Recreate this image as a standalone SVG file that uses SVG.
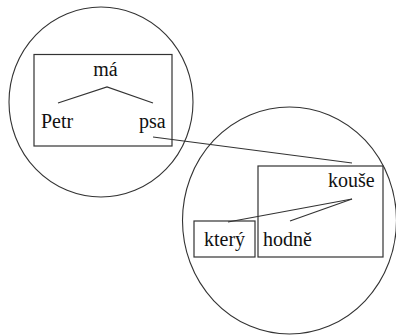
<svg xmlns="http://www.w3.org/2000/svg" width="396" height="336" viewBox="0 0 396 336">
<style>
.c{fill:none;stroke:#333;stroke-width:1.1}
.b{fill:none;stroke:#333;stroke-width:1.2}
.l{fill:none;stroke:#333;stroke-width:1.2}
.t{font-size:20px;fill:#111}
</style>
<rect width="396" height="336" fill="#fff"/>
<g id="circle1"><ellipse class="c" cx="101" cy="102" rx="92" ry="95"/></g>
<g id="circle2"><ellipse class="c" cx="289.5" cy="220.5" rx="107" ry="113.5"/></g>
<g id="box-ma"><rect class="b" x="34" y="54.5" width="138" height="91.5"/></g>
<g id="box-kouse"><rect class="b" x="258" y="166" width="125" height="91"/></g>
<g id="box-ktery"><rect class="b" x="194" y="221" width="61" height="36"/></g>
<g font-family="Liberation Serif, Times New Roman, DejaVu Serif, serif">
<g id="node-ma"><text class="t" x="105.5" y="76" text-anchor="middle">má</text></g>
<g id="node-petr"><text class="t" x="41" y="128">Petr</text></g>
<g id="node-psa"><text class="t" x="139" y="128">psa</text></g>
<g id="node-kouse"><text class="t" x="328" y="187">kouše</text></g>
<g id="node-ktery"><text class="t" x="204" y="246">který</text></g>
<g id="node-hodne"><text class="t" x="263" y="246">hodně</text></g>
</g>
<g id="connectors">
<polyline class="l" points="58,103 107,87 153,103"/>
<line class="l" x1="153" y1="137" x2="352" y2="163"/>
<line class="l" x1="352" y1="199" x2="228" y2="222"/>
<line class="l" x1="352" y1="199" x2="290" y2="221"/>
</g>
</svg>
